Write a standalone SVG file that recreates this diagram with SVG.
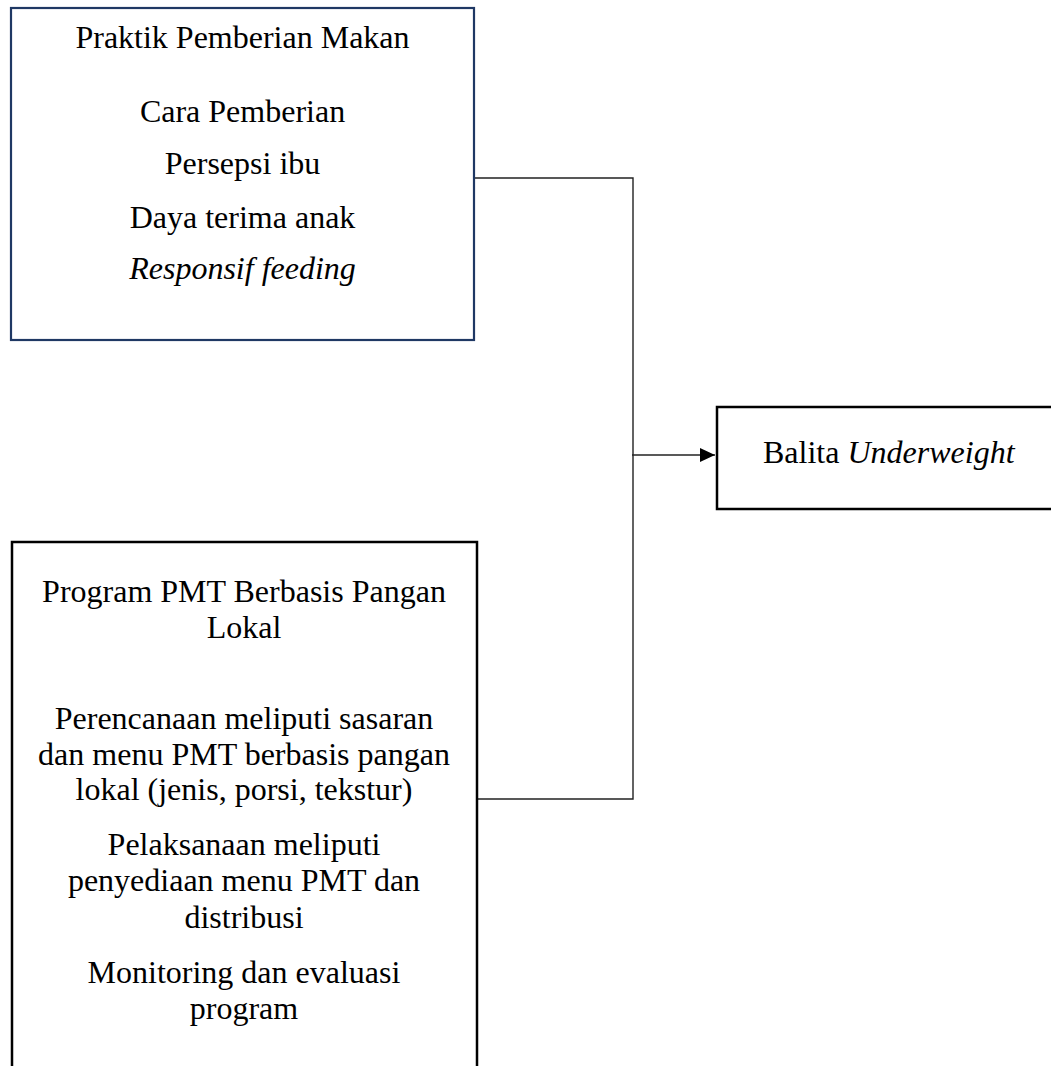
<svg xmlns="http://www.w3.org/2000/svg" width="1051" height="1066" viewBox="0 0 1051 1066">
<style>
text{font-family:"Liberation Serif","Times New Roman",serif;font-size:32px;fill:#000}
.c{text-anchor:middle}
.i{font-style:italic}
.box{fill:#fff;stroke:#000;stroke-width:2.5}
.navy{stroke:#1f3864;stroke-width:2.2}
.conn{fill:none;stroke:#222;stroke-width:1.4}
</style>
<defs>
<marker id="ah" markerUnits="userSpaceOnUse" markerWidth="16" markerHeight="16" refX="15" refY="8" orient="auto">
<path d="M0,1 L15,8 L0,15 Z" fill="#000"/>
</marker>
</defs>
<rect width="1051" height="1066" fill="#fff"/>
<g id="connectors">
<polyline class="conn" points="474,178 633,178 633,799 476,799"/>
<line class="conn" x1="632" y1="455" x2="715" y2="455" marker-end="url(#ah)"/>
</g>
<g id="node-praktik">
<rect class="box navy" x="11" y="8" width="463" height="332"/>
<text class="c" x="242.5" y="48">Praktik Pemberian Makan</text>
<text class="c" x="242.5" y="122">Cara Pemberian</text>
<text class="c" x="242.5" y="174">Persepsi ibu</text>
<text class="c" x="242.5" y="228">Daya terima anak</text>
<text class="c i" x="242.5" y="279">Responsif feeding</text>
</g>
<g id="node-balita">
<rect class="box" x="717" y="407" width="400" height="102"/>
<text x="763" y="463">Balita <tspan class="i">Underweight</tspan></text>
</g>
<g id="node-pmt">
<rect class="box" x="12" y="542" width="465" height="560"/>
<text class="c" x="244" y="602">Program PMT Berbasis Pangan</text>
<text class="c" x="244" y="638">Lokal</text>
<text class="c" x="244" y="729">Perencanaan meliputi sasaran</text>
<text class="c" x="244" y="765">dan menu PMT berbasis pangan</text>
<text class="c" x="244" y="800">lokal (jenis, porsi, tekstur)</text>
<text class="c" x="244" y="855">Pelaksanaan meliputi</text>
<text class="c" x="244" y="891">penyediaan menu PMT dan</text>
<text class="c" x="244" y="928">distribusi</text>
<text class="c" x="244" y="983">Monitoring dan evaluasi</text>
<text class="c" x="244" y="1019">program</text>
</g>
</svg>
